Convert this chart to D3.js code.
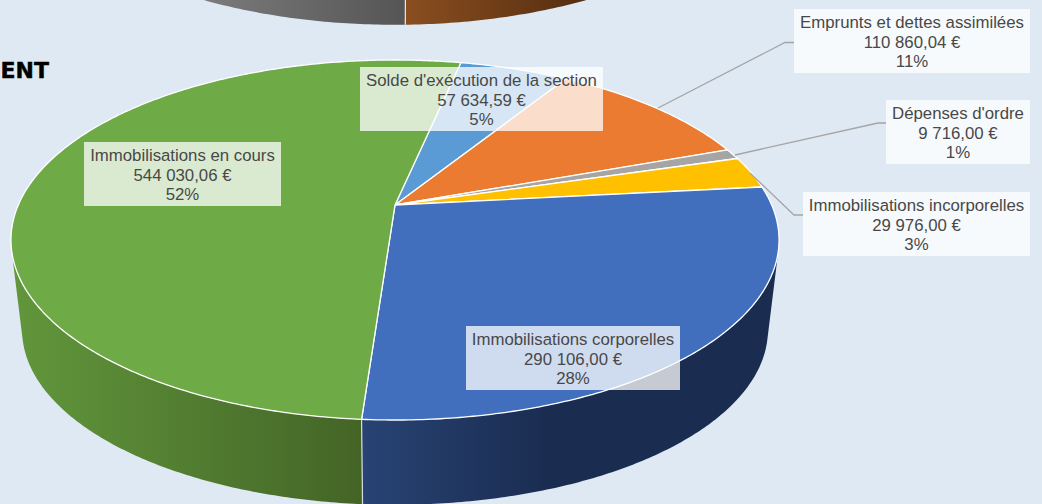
<!DOCTYPE html>
<html>
<head>
<meta charset="utf-8">
<script src="https://cdn.jsdelivr.net/npm/d3@7"></script>
<style>
  html, body { margin: 0; padding: 0; background: #dfe9f3; overflow: hidden; }
  svg { display: block; }
  text { font-family: "Liberation Sans", Arial, sans-serif; }
</style>
</head>
<body>
<div id="chart"></div>
<script>
// chart values
const categories = [
    "Solde d'exécution de la section",
    "Emprunts et dettes assimilées",
    "Dépenses d'ordre",
    "Immobilisations incorporelles",
    "Immobilisations corporelles",
    "Immobilisations en cours"
];
const amounts = [57634.59, 110860.04, 9716.00, 29976.00, 290106.00, 544030.06];
const percentLabels = ["5%", "11%", "1%", "3%", "28%", "52%"];
const sliceColors = ["#5b9bd5", "#eb7b30", "#a5a5a5", "#ffc000", "#416fbe", "#6eaa46"];

// label boxes and leader lines, same order as categories
const labelBoxes = [
    { x: 360, y: 67, w: 243, h: 64 },
    { x: 794, y: 9, w: 236, h: 64 },
    { x: 886, y: 100, w: 144, h: 64 },
    { x: 803, y: 192, w: 227, h: 64 },
    { x: 466, y: 326, w: 214, h: 64 },
    { x: 84, y: 142, w: 197, h: 64 }
];
const leaders = [
    [[794, 42.5], [785, 42.5], [658, 108]],
    [[886, 123], [878, 123], [735, 155]],
    [[803, 215], [794, 215], [750, 173]]
];

const width = 1042;
const height = 504;

// perspective pie: k is the foreshortening, A and B the half axes at the apex
const k = 0.1945;
const A = 376.7;
const B = 173.2;
const cx = 395;
const topY = 205;      // apex of the top face
const bottomY = 296;   // apex of the bottom face
const bottomScale = 0.971;
const startAngle = 12 * Math.PI / 180;

function project(phi, y0, s) {
    const u = Math.sin(phi);
    const v = -Math.cos(phi);
    const d = 1 - k * v;
    return [cx + s * A * u / d, y0 + s * B * v / d];
}

function arcPoints(a0, a1, y0, s) {
    const n = Math.max(2, Math.ceil(Math.abs(a1 - a0) / 0.01));
    return d3.range(n + 1).map(i => project(a0 + (a1 - a0) * i / n, y0, s));
}

const line = d3.line();

const svg = d3.select('#chart')
    .append('svg')
    .attr('width', width)
    .attr('height', height)
    .attr('viewBox', `0 0 ${width} ${height}`);

const defs = svg.append('defs');

function addGradient(id, x1, x2, stops) {
    const g = defs.append('linearGradient')
        .attr('id', id)
        .attr('gradientUnits', 'userSpaceOnUse')
        .attr('x1', x1).attr('x2', x2)
        .attr('y1', 0).attr('y2', 0);
    stops.forEach(([o, c]) => g.append('stop').attr('offset', o).attr('stop-color', c));
}

addGradient('sideGreen', 15, 362, [[0, '#61963b'], [0.75, '#4b712c'], [1, '#446426']]);
addGradient('sideBlue', 362, 780, [[0, '#284374'], [0.45, '#1a2c50'], [1, '#1a2c50']]);
addGradient('sideGray', 205, 405, [[0, '#7b7b7b'], [1, '#555555']]);
addGradient('sideBrown', 405, 585, [[0, '#8a4e20'], [1, '#552e10']]);

// pie above, only its lower rim shows
const upperOffset = -480;
const upperSplit = 178.7 * Math.PI / 180;
const sideLeft = 255.7 * Math.PI / 180;
const sideRight = 104.3 * Math.PI / 180;

function sidePath(a0, a1, dy) {
    const up = arcPoints(a0, a1, topY + dy, 1);
    const low = arcPoints(a1, a0, bottomY + dy, bottomScale);
    return line(up.concat(low)) + 'Z';
}

svg.append('path').attr('d', sidePath(upperSplit, sideLeft, upperOffset)).attr('fill', 'url(#sideGray)');
svg.append('path').attr('d', sidePath(sideRight, upperSplit, upperOffset)).attr('fill', 'url(#sideBrown)');
svg.append('path')
    .attr('d', line([project(upperSplit, topY + upperOffset, 1), project(upperSplit, bottomY + upperOffset, bottomScale)]))
    .attr('stroke', '#e8e8e8').attr('stroke-width', 1.2).attr('fill', 'none');

// title fragment cut off by the left edge
svg.append('text')
    .attr('x', 49)
    .attr('y', 78)
    .attr('text-anchor', 'end')
    .attr('font-size', 22)
    .attr('font-weight', 'bold')
    .style('font-family', '"DejaVu Sans", sans-serif')
    .attr('fill', '#000')
    .attr('stroke', '#000')
    .attr('stroke-width', 0.4)
    .text('ENT');

// slices
const pie = d3.pie()
    .sort(null)
    .startAngle(startAngle)
    .endAngle(startAngle + 2 * Math.PI);
const arcs = pie(amounts);
const corp = arcs[4];

// side walls
svg.append('path').attr('d', sidePath(corp.endAngle, sideLeft, 0)).attr('fill', 'url(#sideGreen)');
svg.append('path').attr('d', sidePath(sideRight, corp.endAngle, 0)).attr('fill', 'url(#sideBlue)');
svg.append('path')
    .attr('d', line([project(corp.endAngle, topY, 1), project(corp.endAngle, bottomY, bottomScale)]))
    .attr('stroke', '#d8dde0').attr('stroke-width', 1.2).attr('fill', 'none');

// top face
svg.append('g')
    .selectAll('path')
    .data(arcs)
    .join('path')
    .attr('d', d => line([[cx, topY]].concat(arcPoints(d.startAngle, d.endAngle, topY, 1))) + 'Z')
    .attr('fill', (d, i) => sliceColors[i])
    .attr('stroke', '#fff')
    .attr('stroke-width', 1.3)
    .attr('stroke-linejoin', 'round');

// leader lines
svg.append('g')
    .selectAll('path')
    .data(leaders)
    .join('path')
    .attr('d', line)
    .attr('fill', 'none')
    .attr('stroke', '#a5a5a5')
    .attr('stroke-width', 1.3);

// data labels
const formatAmount = d3.formatLocale({ decimal: ',', thousands: ' ', grouping: [3], currency: ['', ' €'] }).format(',.2f');

const labels = svg.append('g')
    .selectAll('g')
    .data(categories)
    .join('g')
    .attr('transform', (d, i) => `translate(${labelBoxes[i].x},${labelBoxes[i].y})`);

labels.append('rect')
    .attr('width', (d, i) => labelBoxes[i].w)
    .attr('height', (d, i) => labelBoxes[i].h)
    .attr('fill', '#fff')
    .attr('fill-opacity', 0.75);

labels.each(function(d, i) {
    const rows = [d, formatAmount(amounts[i]) + ' €', percentLabels[i]];
    d3.select(this).selectAll('text')
        .data(rows)
        .join('text')
        .attr('x', labelBoxes[i].w / 2)
        .attr('y', (r, j) => 19 + j * 19.7)
        .attr('text-anchor', 'middle')
        .attr('font-size', 16.8)
        .attr('fill', '#484848')
        .text(r => r);
});
</script>
</body>
</html>
